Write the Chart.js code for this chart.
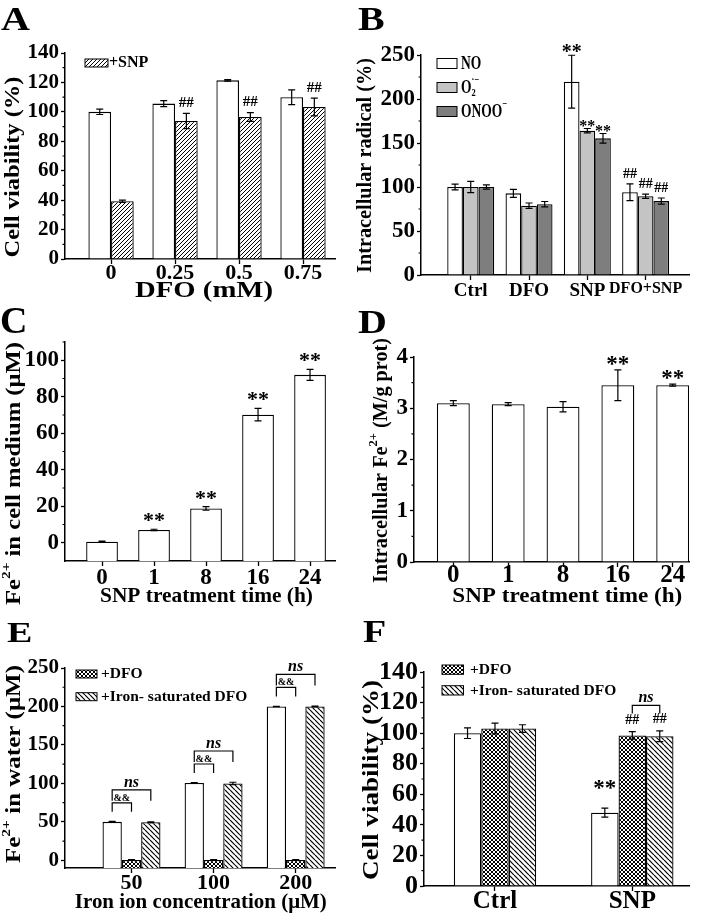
<!DOCTYPE html>
<html>
<head>
<meta charset="utf-8">
<title>DFO / SNP figure</title>
<script src="https://cdn.jsdelivr.net/npm/chart.js@4.4.1/dist/chart.umd.min.js"></script>
<style>
  html, body { margin: 0; padding: 0; background: #fff; }
  #wrap { position: relative; width: 708px; height: 915px; overflow: hidden; }
  #wrap canvas { position: absolute; }
</style>
</head>
<body>
<div id="wrap">
  <canvas id="pA" width="354" height="305" style="left:0;top:0"></canvas>
  <canvas id="pB" width="354" height="305" style="left:354px;top:0"></canvas>
  <canvas id="pC" width="354" height="305" style="left:0;top:305px"></canvas>
  <canvas id="pD" width="354" height="305" style="left:354px;top:305px"></canvas>
  <canvas id="pE" width="354" height="305" style="left:0;top:610px"></canvas>
  <canvas id="pF" width="354" height="305" style="left:354px;top:610px"></canvas>
</div>
<script>
// ---- data ----
// A: cell viability vs DFO
const aLabels = ['0', '0.25', '0.5', '0.75'];
const aTicks = [0, 20, 40, 60, 80, 100, 120, 140];
const aCtrl = [100, 105.6, 121.4, 109.9];
const aCtrlErr = [1.8, 2, 0.5, 5];
const aSnp = [39.2, 93.8, 96.5, 103.3];
const aSnpErr = [0.8, 5.2, 3, 6];
const aSnpSig = ['', '##', '##', '##'];

// B: intracellular radicals
const bLabels = ['Ctrl', 'DFO', 'SNP', 'DFO+SNP'];
const bTicks = [0, 50, 100, 150, 200, 250];
const bNO = [100, 92.8, 219.7, 94];
const bNOErr = [3.2, 4.5, 30, 9.5];
const bO2 = [100, 78.8, 164, 89.5];
const bO2Err = [6.5, 3, 2.5, 2.5];
const bOnoo = [100, 80.5, 155.3, 84];
const bOnooErr = [2.5, 3, 5.5, 3.5];
const bNOSig = ['', '', '**', '##'];
const bO2Sig = ['', '', '**', '##'];
const bOnooSig = ['', '', '**', '##'];

// C: Fe2+ in cell medium
const cLabels = ['0', '1', '8', '16', '24'];
const cTicks = [0, 20, 40, 60, 80, 100];
const cFe = [0.6, 7, 18.8, 70.2, 92];
const cFeErr = [0.3, 0.4, 1, 3.4, 3];
const cSig = ['', '**', '**', '**', '**'];

// D: intracellular Fe2+
const dLabels = ['0', '1', '8', '16', '24'];
const dTicks = [0, 1, 2, 3, 4];
const dFe = [3.1, 3.08, 3.03, 3.45, 3.45];
const dFeErr = [0.05, 0.03, 0.1, 0.3, 0.02];
const dSig = ['', '', '', '**', '**'];

// E: Fe2+ in water
const eLabels = ['50', '100', '200'];
const eTicks = [0, 50, 100, 150, 200, 250];
const eFe = [50, 100.5, 200];
const eFeErr = [0.5, 0.5, 0.3];
const eDfo = [0.5, 0.5, 0.5];
const eDfoErr = [0.3, 0.3, 0.3];
const eIron = [49.5, 100, 200];
const eIronErr = [0.6, 1.5, 0.4];
const eBrackets = [
  {i: 0, a: 0, b: 1, text: '&&'}, {i: 0, a: 0, b: 2, text: 'ns'},
  {i: 1, a: 0, b: 1, text: '&&'}, {i: 1, a: 0, b: 2, text: 'ns'},
  {i: 2, a: 0, b: 1, text: '&&'}, {i: 2, a: 0, b: 2, text: 'ns'}
];

// F: cell viability
const fLabels = ['Ctrl', 'SNP'];
const fTicks = [0, 20, 40, 60, 80, 100, 120, 140];
const fCtrl = [100, 48];
const fCtrlErr = [3.5, 3];
const fDfo = [103, 98.5];
const fDfoErr = [3.5, 2.5];
const fIron = [103, 98];
const fIronErr = [2.5, 3.5];
const fCtrlSig = ['', '**'];
const fDfoSig = ['', '##'];
const fIronSig = ['', '##'];
const fBrackets = [{i: 1, a: 1, b: 2, text: 'ns'}];

// ---- helpers ----
const FAM = '"Liberation Serif", "Times New Roman", serif';
const xy = vals => vals.map((v, i) => ({x: i, y: v}));

function hatch(dir, gap, lw, cross) {
  const c = document.createElement('canvas');
  c.width = c.height = gap;
  const g = c.getContext('2d');
  g.fillStyle = '#fff';
  g.fillRect(0, 0, gap, gap);
  g.strokeStyle = '#000';
  g.lineWidth = lw;
  const lines = d => {
    for (let k = -1; k <= 1; k++) {
      g.beginPath();
      if (d > 0) { g.moveTo(k * gap, gap); g.lineTo(k * gap + gap, 0); }
      else { g.moveTo(k * gap, 0); g.lineTo(k * gap + gap, gap); }
      g.stroke();
    }
  };
  lines(dir);
  if (cross) lines(-dir);
  return g.createPattern(c, 'repeat');
}
const patSnp = hatch(1, 4, 1);
const patIron = hatch(-1, 5, 1.2);
const patDfo = hatch(1, 4, 1, true);

// text with super/subscripts
function rich(ctx, x, y, segs, o) {
  const size = o.size, st = o.style || 'bold';
  const f = s => st + ' ' + s + 'px ' + FAM;
  const small = size * 0.62;
  let w = 0;
  const parts = segs.map(s => {
    if (typeof s === 'string') s = {t: s};
    let pw;
    if (s.t !== undefined) { ctx.font = f(size); pw = ctx.measureText(s.t).width; }
    else {
      ctx.font = f(small);
      pw = Math.max(s.sup ? ctx.measureText(s.sup).width : 0, s.sub ? ctx.measureText(s.sub).width : 0);
    }
    const p = {s: s, x: w};
    w += pw;
    return p;
  });
  ctx.save();
  ctx.translate(x, y);
  if (o.rot) ctx.rotate(o.rot);
  const sx = o.len ? o.len / w : (o.sx || 1);
  ctx.scale(sx, o.sy || 1);
  const x0 = o.align === 'center' ? -w / 2 : (o.align === 'right' ? -w : 0);
  ctx.textAlign = 'left';
  ctx.textBaseline = o.baseline || 'alphabetic';
  ctx.fillStyle = '#000';
  parts.forEach(p => {
    const s = p.s;
    if (s.t !== undefined) { ctx.font = f(size); ctx.fillText(s.t, x0 + p.x, 0); }
    else {
      ctx.font = f(small);
      if (s.sup) ctx.fillText(s.sup, x0 + p.x, -size * (o.supDy || 0.38));
      if (s.sub) ctx.fillText(s.sub, x0 + p.x, size * 0.22);
    }
  });
  ctx.restore();
}

const extras = {
  id: 'extras',
  afterDatasetsDraw(chart) {
    const ctx = chart.ctx, ys = chart.scales.y;
    ctx.save();
    ctx.strokeStyle = '#000';
    ctx.lineWidth = 1.2;
    chart.data.datasets.forEach((ds, di) => {
      if (!ds.errors) return;
      chart.getDatasetMeta(di).data.forEach((bar, i) => {
        const v = ds.data[i].y, e = ds.errors[i];
        const y1 = ys.getPixelForValue(v + e), y2 = ys.getPixelForValue(v - e);
        ctx.beginPath();
        ctx.moveTo(bar.x, y1); ctx.lineTo(bar.x, y2);
        ctx.moveTo(bar.x - 3.5, y1); ctx.lineTo(bar.x + 3.5, y1);
        ctx.moveTo(bar.x - 3.5, y2); ctx.lineTo(bar.x + 3.5, y2);
        ctx.stroke();
      });
    });
    ctx.restore();
  },
  afterDraw(chart, args, o) {
    const ctx = chart.ctx, ys = chart.scales.y, area = chart.chartArea;
    // minor ticks on the y axis
    if (o.minor) {
      ctx.save();
      ctx.strokeStyle = '#000';
      ctx.lineWidth = 1.2;
      ctx.beginPath();
      for (let v = ys.ticks[0].value - o.minor; v <= ys.max + 1e-9; v += 2 * o.minor) {
        if (v <= ys.min + 1e-9) continue;
        const py = ys.getPixelForValue(v);
        ctx.moveTo(area.left, py);
        ctx.lineTo(area.left - 2.5, py);
      }
      ctx.stroke();
      ctx.restore();
    }
    // significance marks
    chart.data.datasets.forEach((ds, di) => {
      if (!ds.marks) return;
      const meta = chart.getDatasetMeta(di);
      ds.marks.forEach((m, i) => {
        if (!m) return;
        const st = o.marks[m];
        const size = (ds.markSize && ds.markSize[m]) || st.size;
        const top = ys.getPixelForValue(ds.data[i].y + (ds.errors ? ds.errors[i] : 0));
        rich(ctx, meta.data[i].x, top + st.dy, [m], {size: size, align: 'center'});
      });
    });
    // brackets
    (o.brackets || []).forEach(b => {
      const st = o.bstyle[b.text];
      const ea = chart.getDatasetMeta(b.a).data[b.i], eb = chart.getDatasetMeta(b.b).data[b.i];
      const top = ea.y - st.lift;
      ctx.save();
      ctx.strokeStyle = '#000';
      ctx.lineWidth = 1.2;
      ctx.beginPath();
      ctx.moveTo(ea.x, top + st.leg); ctx.lineTo(ea.x, top);
      ctx.lineTo(eb.x, top); ctx.lineTo(eb.x, top + st.leg);
      ctx.stroke();
      ctx.restore();
      rich(ctx, (ea.x + eb.x) / 2, top - st.gap, [b.text], {size: st.size, style: st.style, align: 'center'});
    });
    // legend
    if (o.legend) {
      const L = o.legend;
      L.items.forEach((it, r) => {
        const by = L.y + r * L.step;
        ctx.save();
        ctx.fillStyle = it.fill;
        ctx.fillRect(L.x, by, L.w, L.h);
        ctx.strokeStyle = '#000';
        ctx.lineWidth = 1;
        ctx.strokeRect(L.x, by, L.w, L.h);
        ctx.restore();
        rich(ctx, L.x + L.tx, by + L.dy, it.segs, {size: L.size, sx: L.sx, sy: L.sy, supDy: L.supDy});
      });
    }
    if (o.yTitle) {
      const t = o.yTitle;
      rich(ctx, t.x, t.y, t.segs, {size: t.size, len: t.len, rot: -Math.PI / 2, align: 'center', baseline: 'middle'});
    }
    if (o.xTitle) {
      const t = o.xTitle;
      rich(ctx, t.x, t.y, t.segs, {size: t.size, len: t.len, align: 'center'});
    }
    if (o.letter) {
      const t = o.letter;
      rich(ctx, t.x, t.y, [t.t], {size: t.size, sy: t.sy});
    }
  }
};

function makePanel(id, p) {
  const [L, R, T, B] = p.area;
  return new Chart(document.getElementById(id), {
    type: 'bar',
    data: {datasets: p.datasets},
    plugins: [extras],
    options: {
      responsive: false,
      animation: false,
      devicePixelRatio: 1,
      events: [],
      layout: {padding: {left: 0, top: T, right: 354 - R, bottom: 0}},
      datasets: {bar: {borderColor: '#000', borderWidth: 1.3, barPercentage: 1, categoryPercentage: p.cat}},
      plugins: {legend: {display: false}, tooltip: {enabled: false}, extras: p.extras},
      scales: {
        x: {
          type: 'linear', min: p.xmin, max: p.xmax, offset: false,
          grid: {display: true, offset: false, drawOnChartArea: false, tickLength: 5, tickWidth: 1.3, tickColor: '#000'},
          border: {display: true, color: '#000', width: 1.5},
          afterBuildTicks: s => { s.ticks = p.labels.map((l, i) => ({value: i})); },
          afterFit: s => { s.height = 305 - B; },
          ticks: {
            color: '#000', padding: p.xpad, autoSkip: false, maxRotation: 0,
            font: p.xfont, callback: v => p.labels[v]
          }
        },
        y: {
          min: p.ymin, max: p.ymax,
          grid: {display: true, drawOnChartArea: false, tickLength: 4, tickWidth: 1.3, tickColor: '#000'},
          border: {display: true, color: '#000', width: 1.5},
          afterBuildTicks: s => { s.ticks = p.yticks.map(v => ({value: v})); },
          afterFit: s => { s.width = L; },
          ticks: {color: '#000', padding: 2, font: {family: FAM, weight: 'bold', size: p.ysize, lineHeight: 1}}
        }
      }
    }
  });
}

const bold = size => ({family: FAM, weight: 'bold', size: size, lineHeight: 1});

// A
makePanel('pA', {
  area: [65, 335, 53, 259], xmin: -0.72, xmax: 3.5, cat: 0.708,
  labels: aLabels, xfont: bold(22), xpad: -1.5,
  ymin: 0, ymax: 140, yticks: aTicks, ysize: 21,
  datasets: [
    {data: xy(aCtrl), backgroundColor: '#fff', errors: aCtrlErr},
    {data: xy(aSnp), backgroundColor: patSnp, errors: aSnpErr, marks: aSnpSig}
  ],
  extras: {
    letter: {t: 'A', x: 1, y: 30, size: 40, sy: 0.85},
    yTitle: {segs: ['Cell viability (%)'], x: 14, y: 167, size: 21, len: 181},
    xTitle: {segs: ['DFO (mM)'], x: 204, y: 297, size: 23, len: 138},
    minor: 10,
    marks: {'##': {size: 15, dy: -6.5}},
    legend: {x: 85, y: 59, w: 23, h: 8, step: 0, tx: 24, dy: 7.5, size: 16,
      items: [{fill: patSnp, segs: ['+SNP']}]}
  }
});

// B
makePanel('pB', {
  area: [67, 335, 55, 275], xmin: -0.853, xmax: 3.744, cat: 0.806,
  labels: bLabels, xpad: 1.3,
  xfont: c => bold(c.tick && c.tick.value === 3 ? 16 : 19),
  ymin: 0, ymax: 250, yticks: bTicks, ysize: 23,
  datasets: [
    {data: xy(bNO), backgroundColor: '#fff', errors: bNOErr, marks: bNOSig},
    {data: xy(bO2), backgroundColor: '#c4c4c4', errors: bO2Err, marks: bO2Sig, markSize: {'**': 16}},
    {data: xy(bOnoo), backgroundColor: '#7e7e7e', errors: bOnooErr, marks: bOnooSig, markSize: {'**': 16}}
  ],
  extras: {
    letter: {t: 'B', x: 4, y: 30, size: 40, sy: 0.85},
    yTitle: {segs: ['Intracellular radical (%)'], x: 12, y: 165.5, size: 21, len: 215},
    minor: 25,
    marks: {'**': {size: 20, dy: 2.5}, '##': {size: 14, dy: -6}},
    legend: {x: 83, y: 58.5, w: 20, h: 10, step: 24, tx: 24, dy: 10, size: 18, sx: 0.75, supDy: 0.55,
      items: [
        {fill: '#fff', segs: ['NO']},
        {fill: '#c4c4c4', segs: ['O', {sub: '2', sup: '·\u2212'}]},
        {fill: '#7e7e7e', segs: ['ONOO', {sup: '\u2212'}]}
      ]}
  }
});

// C
makePanel('pC', {
  area: [65, 335, 37, 256], xmin: -0.712, xmax: 4.48, cat: 0.61,
  labels: cLabels, xfont: bold(23), xpad: 0.8,
  ymin: -10, ymax: 110, yticks: cTicks, ysize: 23,
  datasets: [
    {data: xy(cFe), backgroundColor: '#fff', errors: cFeErr, marks: cSig, base: -10}
  ],
  extras: {
    letter: {t: 'C', x: 0, y: 28, size: 38, sy: 1},
    yTitle: {segs: ['Fe', {sup: '2+'}, ' in cell medium (\u03bcM)'], x: 14.5, y: 168.5, size: 21, len: 263},
    xTitle: {segs: ['SNP treatment time (h)'], x: 206.5, y: 297, size: 21, len: 213},
    minor: 10,
    marks: {'**': {size: 22, dy: -2}}
  }
});

// D
makePanel('pD', {
  area: [60, 335, 52, 257], xmin: -0.717, xmax: 4.297, cat: 0.6,
  labels: dLabels, xfont: bold(25), xpad: -3.7,
  ymin: 0, ymax: 4, yticks: dTicks, ysize: 23,
  datasets: [
    {data: xy(dFe), backgroundColor: '#fff', errors: dFeErr, marks: dSig}
  ],
  extras: {
    letter: {t: 'D', x: 4, y: 28, size: 40, sy: 0.85},
    yTitle: {segs: ['Intracellular Fe', {sup: '2+'}, ' (M/g prot)'], x: 27.5, y: 155.5, size: 21, len: 245},
    xTitle: {segs: ['SNP treatment time (h)'], x: 213.3, y: 297, size: 21, len: 230},
    minor: 0.5,
    marks: {'**': {size: 23, dy: 1}}
  }
});

// E
makePanel('pE', {
  area: [65, 335, 58, 258], xmin: -0.81, xmax: 2.479, cat: 0.706,
  labels: eLabels, xfont: bold(22), xpad: -0.7,
  ymin: -10, ymax: 250, yticks: eTicks, ysize: 21,
  datasets: [
    {data: xy(eFe), backgroundColor: '#fff', errors: eFeErr, base: -10},
    {data: xy(eDfo), backgroundColor: patDfo, errors: eDfoErr, base: -10},
    {data: xy(eIron), backgroundColor: patIron, errors: eIronErr, base: -10}
  ],
  extras: {
    letter: {t: 'E', x: 7, y: 31.7, size: 38, sy: 0.8},
    yTitle: {segs: ['Fe', {sup: '2+'}, ' in water (\u03bcM)'], x: 14.5, y: 154, size: 21, len: 198},
    xTitle: {segs: ['Iron ion concentration (\u03bcM)'], x: 200.8, y: 297.5, size: 21, len: 252},
    minor: 25,
    brackets: eBrackets,
    bstyle: {
      '&&': {lift: 19, leg: 9, size: 10, style: 'bold', gap: 2},
      'ns': {lift: 32, leg: 11, size: 16, style: 'bold italic', gap: 3}
    },
    legend: {x: 76, y: 60, w: 21, h: 8, step: 22.7, tx: 25, dy: 8.3, size: 15.5,
      items: [
        {fill: patDfo, segs: ['+DFO']},
        {fill: patIron, segs: ['+Iron- saturated DFO']}
      ]}
  }
});

// F
makePanel('pF', {
  area: [70, 335, 62, 276], xmin: -0.517, xmax: 1.413, cat: 0.6,
  labels: fLabels, xfont: bold(25), xpad: -1.8,
  ymin: 0, ymax: 140, yticks: fTicks, ysize: 26,
  datasets: [
    {data: xy(fCtrl), backgroundColor: '#fff', errors: fCtrlErr, marks: fCtrlSig},
    {data: xy(fDfo), backgroundColor: patDfo, errors: fDfoErr, marks: fDfoSig},
    {data: xy(fIron), backgroundColor: patIron, errors: fIronErr, marks: fIronSig}
  ],
  extras: {
    letter: {t: 'F', x: 9, y: 31.7, size: 38, sy: 0.85},
    yTitle: {segs: ['Cell viability (%)'], x: 18, y: 170, size: 24, len: 200},
    minor: 10,
    marks: {'**': {size: 23, dy: -13}, '##': {size: 14, dy: -8}},
    brackets: fBrackets,
    bstyle: {'ns': {lift: 30, leg: 8, size: 16, style: 'bold italic', gap: 3}},
    legend: {x: 88, y: 55, w: 21.5, h: 9.3, step: 20.7, tx: 28, dy: 9.3, size: 15.5,
      items: [
        {fill: patDfo, segs: ['+DFO']},
        {fill: patIron, segs: ['+Iron- saturated DFO']}
      ]}
  }
});
</script>
</body>
</html>
